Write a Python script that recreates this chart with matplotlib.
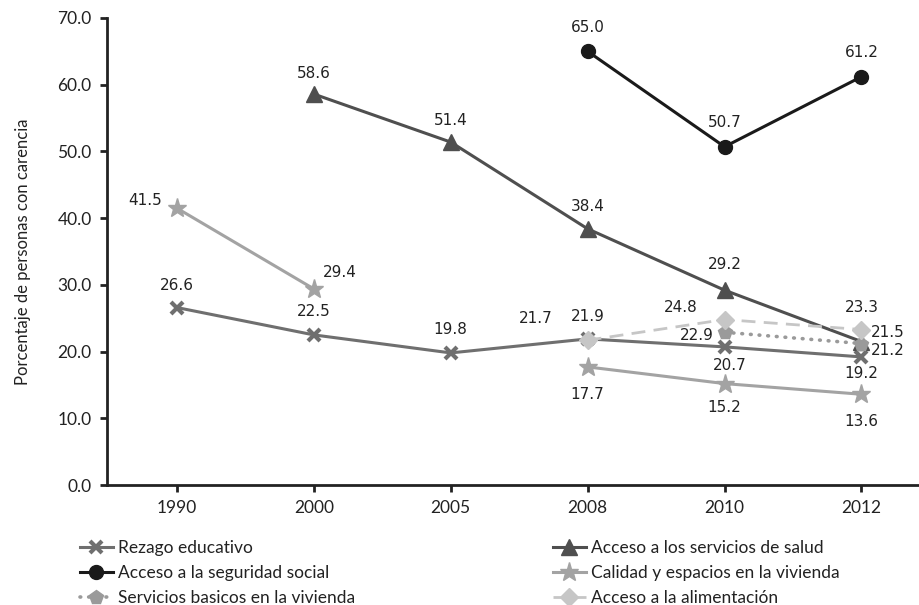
import numpy as np
import matplotlib
matplotlib.use("Agg")
import matplotlib.pyplot as plt
from matplotlib.lines import Line2D

nan = np.nan

years = ["1990", "2000", "2005", "2008", "2010", "2012"]

rezago = [26.6, 22.5, 19.8, 21.9, 20.7, 19.2]
seguridad = [nan, nan, nan, 65.0, 50.7, 61.2]
salud = [nan, 58.6, 51.4, 38.4, 29.2, 21.5]
calidad = [41.5, 29.4, nan, 17.7, 15.2, 13.6]
servicios = [nan, nan, nan, nan, 22.9, 21.2]
alimentacion = [nan, nan, nan, 21.7, 24.8, 23.3]

yticks = [0, 10, 20, 30, 40, 50, 60, 70]

W, H = 919, 605
fig = plt.figure(figsize=(W / 100, H / 100), dpi=100)
ax = fig.add_axes([107 / W, 1 - 485 / H, (919 - 107) / W, (485 - 18) / H])

x = np.arange(len(years))

styles = {
    "rezago": dict(color="#6f6f6f", marker="x", ms=9, mew=3, lw=2.2, ls="-"),
    "seguridad": dict(color="#1a1a1a", marker="o", ms=10, lw=2.2, ls="-"),
    "salud": dict(color="#4f4f4f", marker="^", ms=11, lw=2.2, ls="-"),
    "calidad": dict(color="#a3a3a3", marker="*", ms=14, lw=2.2, ls="-"),
    "servicios": dict(color="#9a9a9a", marker="p", ms=10, lw=2.6,
                      ls=(0, (0.2, 2.2)), dash_capstyle="round"),
    "alimentacion": dict(color="#c6c6c6", marker="D", ms=9, lw=2.0,
                         ls=(0, (5, 3))),
}

series = [
    ("rezago", rezago, "Rezago educativo"),
    ("seguridad", seguridad, "Acceso a la seguridad social"),
    ("servicios", servicios, "Servicios basicos en la vivienda"),
    ("salud", salud, "Acceso a los servicios de salud"),
    ("calidad", calidad, "Calidad y espacios en la vivienda"),
    ("alimentacion", alimentacion, "Acceso a la alimentación"),
]

zorders = {"rezago": 3, "calidad": 3, "salud": 4, "servicios": 5,
           "alimentacion": 6, "seguridad": 7}

for key, vals, _ in series:
    st = styles[key]
    ax.plot(x, vals, zorder=zorders[key], mec=st["color"], mfc=st["color"], **st)

# value labels: offsets in pixels (dx, dy) from each point
offsets = {
    "rezago": [(0, 22), (0, 23), (0, 23), (0, 22), (5, -19), (0, -17)],
    "seguridad": [None, None, None, (0, 24), (0, 24), (0, 24)],
    "salud": [None, (0, 21), (0, 22), (0, 22), (0, 26), (26, 9)],
    "calidad": [(-32, 8), (26, 16), None, (0, -28), (0, -24), (0, -27)],
    "servicios": [None, None, None, None, (-28, -3), (26, -7)],
    "alimentacion": [None, None, None, (-52, 22), (-44, 12), (0, 22)],
}

for key, vals, _ in series:
    for i, v in enumerate(vals):
        off = offsets[key][i]
        if off is None or np.isnan(v):
            continue
        ax.annotate(f"{v:.1f}", (x[i], v), xytext=off, textcoords="offset pixels",
                    ha="center", va="center", fontsize=11, color="#222222",
                    family="DejaVu Sans", zorder=10)

ax.set_xlim(-0.51, 5.42)
ax.set_ylim(0, 70)
ax.set_xticks(x)
ax.set_xticklabels(years)
ax.set_yticks(yticks)
ax.set_yticklabels([f"{t:.1f}" for t in yticks])

for side in ("top", "right"):
    ax.spines[side].set_visible(False)
for side in ("left", "bottom"):
    ax.spines[side].set_linewidth(2)
    ax.spines[side].set_color("#222222")

ax.tick_params(axis="both", length=5, width=2, color="#222222",
               labelsize=12.5, labelcolor="#222222")
ax.tick_params(axis="x", pad=6)
ax.tick_params(axis="y", pad=6)
for lab in ax.get_xticklabels() + ax.get_yticklabels():
    lab.set_family("Lato")

ax.set_ylabel("Porcentaje de personas con carencia", fontsize=12,
              family="Lato", color="#222222")
ax.yaxis.set_label_coords((31 - 107) / (919 - 107), 0.5)


def handle(key):
    st = dict(styles[key])
    c = st.pop("color")
    return Line2D([], [], color=c, mec=c, mfc=c, **st)


left_items = series[:3]
right_items = series[3:]

leg_kw = dict(frameon=False, loc="upper left", borderaxespad=0, borderpad=0,
              handlelength=1.9, handletextpad=0.3, labelspacing=0.52,
              prop={"family": "Lato", "size": 12.5}, labelcolor="#222222")

leg1 = fig.legend([handle(k) for k, _, _ in left_items],
                  [lbl for _, _, lbl in left_items],
                  bbox_to_anchor=(80 / W, 1 - 540 / H), **leg_kw)
leg2 = fig.legend([handle(k) for k, _, _ in right_items],
                  [lbl for _, _, lbl in right_items],
                  bbox_to_anchor=(553 / W, 1 - 540 / H), **leg_kw)

fig.savefig("out.png", dpi=100)
